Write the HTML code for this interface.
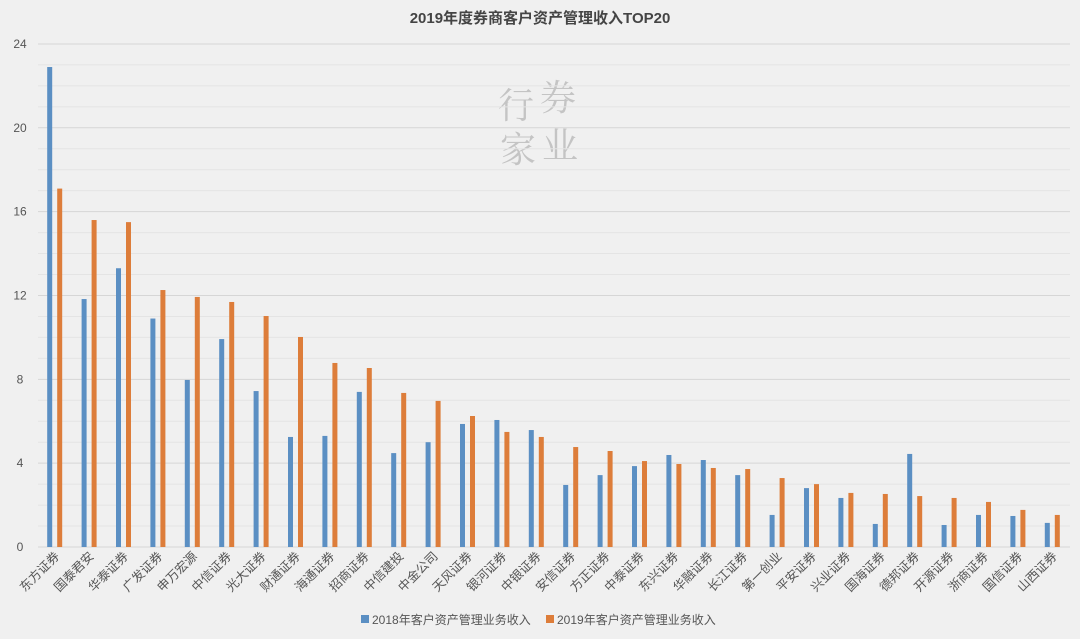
<!DOCTYPE html>
<html><head><meta charset="utf-8"><style>
html,body{margin:0;padding:0;background:#f0f0f0;}
svg{display:block;font-family:"Liberation Sans","Noto Sans CJK SC",sans-serif;}
</style></head><body>
<svg id="c" width="1080" height="639" viewBox="0 0 1080 639" xmlns="http://www.w3.org/2000/svg">
<rect width="1080" height="639" fill="#f0f0f0"/>
<text x="540" y="23" text-anchor="middle" font-size="15" font-weight="bold" fill="#444">2019年度券商客户资产管理收入TOP20</text>
<g font-family="'Noto Serif CJK SC',serif" font-size="36" fill="#c4c4c4">
<text x="498" y="118">行</text><text x="540" y="110">券</text>
<text x="500" y="162">家</text><text x="542" y="158">业</text>
</g>
<g id="g"></g>
<g font-size="12" fill="#555">
<rect x="361" y="615" width="8" height="8" fill="#5b8fc3"/><text x="372" y="624">2018年客户资产管理业务收入</text>
<rect x="546" y="615" width="8" height="8" fill="#dd7d3a"/><text x="557" y="624">2019年客户资产管理业务收入</text>
</g>
</svg>
<script>
var names=["东方证券","国泰君安","华泰证券","广发证券","申万宏源","中信证券","光大证券","财通证券","海通证券","招商证券","中信建投","中金公司","天风证券","银河证券","中银证券","安信证券","方正证券","中泰证券","东兴证券","华融证券","长江证券","第一创业","平安证券","兴业证券","国海证券","德邦证券","开源证券","浙商证券","国信证券","山西证券"];
var a=[22.9,11.83,13.3,10.9,7.97,9.92,7.44,5.25,5.3,7.4,4.48,5.0,5.87,6.06,5.58,2.96,3.43,3.86,4.39,4.15,3.43,1.53,2.81,2.34,1.1,4.44,1.05,1.53,1.48,1.15];
var b=[17.1,15.6,15.5,12.26,11.93,11.69,11.02,10.02,8.78,8.54,7.35,6.97,6.25,5.49,5.25,4.77,4.58,4.1,3.96,3.77,3.72,3.29,3.0,2.58,2.53,2.43,2.34,2.15,1.77,1.53];
var s="",y0=547,k=20.96;
for(var v=0;v<=24;v++){var y=y0-v*k;s+='<line x1="38" x2="1070" y1="'+y+'" y2="'+y+'" stroke="'+(v%4==0?'#d6d6d6':'#e4e4e4')+'" stroke-width="1"/>';
if(v%4==0)s+='<text x="20" y="'+(y+4)+'" text-anchor="middle" font-size="12" fill="#555">'+v+'</text>';}
for(var i=0;i<30;i++){var c=55.2+34.4*i;
s+='<rect x="'+(c-8)+'" y="'+(y0-a[i]*k)+'" width="5" height="'+(a[i]*k)+'" fill="#5b8fc3"/>';
s+='<rect x="'+(c+2)+'" y="'+(y0-b[i]*k)+'" width="5" height="'+(b[i]*k)+'" fill="#dd7d3a"/>';
s+='<text transform="translate('+(c+5)+',557) rotate(-45)" text-anchor="end" font-size="12.5" fill="#555">'+names[i]+'</text>';}
document.getElementById("g").innerHTML=s;
</script>
</body></html>
